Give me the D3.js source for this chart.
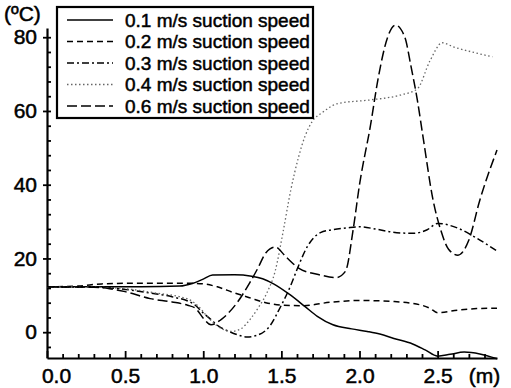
<!DOCTYPE html>
<html>
<head>
<meta charset="utf-8">
<script src="https://cdn.jsdelivr.net/npm/d3@7"></script>
<style>
    body { margin: 0; background: #fff; }
    svg text { font-family: "Liberation Sans", Arial, sans-serif; fill: #000; stroke: #000; stroke-width: 0.5px; }
</style>
</head>
<body>
<div id="chart"></div>
<script>
//Datos: [posición (m), temperatura (ºC)]
const seriesNames = ['0.1 m/s suction speed', '0.2 m/s suction speed', '0.3 m/s suction speed', '0.4 m/s suction speed', '0.6 m/s suction speed'];

const speed01 = [[0,12.3],[0.3,12.3],[0.6,12.3],[0.85,12.5],[0.93,13.2],[1.0,14.4],[1.06,15.5],[1.2,15.6],[1.31,15.2],[1.38,14.5],[1.45,13.1],[1.55,10.3],[1.65,7.0],[1.73,4.3],[1.83,2.0],[1.95,0.9],[2.05,0.2],[2.13,-0.5],[2.22,-1.7],[2.34,-3.2],[2.42,-4.8],[2.5,-6.5],[2.58,-6.0],[2.67,-5.4],[2.77,-5.9],[2.88,-7.2]];

const speed02 = [[0,12.3],[0.2,12.5],[0.35,13.1],[0.6,13.3],[0.9,13.3],[1.0,13.1],[1.09,12.3],[1.19,10.8],[1.3,9.3],[1.4,8.0],[1.51,7.3],[1.64,7.2],[1.81,8.1],[2.0,8.6],[2.22,8.3],[2.39,7.4],[2.45,6.5],[2.5,5.3],[2.63,6.0],[2.75,6.4],[2.88,6.5]];

const speed03 = [[0,12.3],[0.3,12.2],[0.5,11.6],[0.66,10.6],[0.8,9.6],[0.94,7.6],[1.0,5.2],[1.05,3.4],[1.1,1.6],[1.16,0.3],[1.22,-0.7],[1.28,-1.3],[1.34,-0.9],[1.43,1.9],[1.49,6.5],[1.56,12.7],[1.6,17.0],[1.67,23.5],[1.75,27.0],[1.83,27.8],[1.92,28.3],[2.0,28.6],[2.1,28.0],[2.2,27.2],[2.34,26.8],[2.43,27.7],[2.5,29.5],[2.63,28.2],[2.75,25.5],[2.88,22.0]];

const speed04 = [[0,12.3],[0.3,12.2],[0.5,11.8],[0.7,10.6],[0.9,9.0],[0.97,7.0],[1.02,4.5],[1.07,2.4],[1.12,0.9],[1.18,0.2],[1.24,0.9],[1.3,3.5],[1.35,6.5],[1.41,10.9],[1.46,16.5],[1.51,27.0],[1.56,38.5],[1.61,47.5],[1.65,53.0],[1.70,57.3],[1.76,59.5],[1.86,62.0],[2.07,63.0],[2.26,64.3],[2.37,66.0],[2.45,73.5],[2.53,78.5],[2.6,77.4],[2.72,76.0],[2.85,74.7]];

const speed06 = [[0,12.3],[0.3,12.2],[0.4,11.8],[0.5,11.0],[0.66,9.1],[0.8,8.2],[0.9,7.3],[0.95,6.5],[1.0,3.8],[1.05,2.0],[1.11,3.3],[1.22,8.2],[1.3,13.6],[1.35,17.4],[1.4,21.5],[1.46,23.1],[1.53,20.4],[1.61,17.4],[1.75,15.5],[1.85,14.8],[1.91,16.5],[1.96,28.0],[2.0,40.0],[2.07,56.0],[2.12,69.0],[2.18,80.0],[2.23,83.3],[2.29,80.0],[2.33,72.0],[2.37,63.0],[2.41,52.0],[2.47,36.0],[2.52,27.7],[2.57,22.5],[2.63,20.9],[2.70,25.0],[2.77,35.8],[2.88,49.4]];

//Ticks
const xMajorTicks = [0, 0.5, 1.0, 1.5, 2.0, 2.5];
const yMajorTicks = [0, 20, 40, 60, 80];

//Estilos de línea
const dashes = [null, '6,4', '7,3,2,3', '1.5,2.5', '10,4'];
const strokes = ['#000', '#000', '#000', '#666', '#000'];

let allSeries = [speed01, speed02, speed03, speed04, speed06];

let margin = {top: 28, right: 14, bottom: 30, left: 47},
    width = 511 - margin.left - margin.right,
    height = 388 - margin.top - margin.bottom;

let svg = d3.select('#chart')
    .append('svg')
        .attr('width', width + margin.left + margin.right)
        .attr('height', height + margin.top + margin.bottom);

let chart = svg.append('g')
    .attr('transform', 'translate(' + margin.left + ',' + margin.top + ')');

let x = d3.scaleLinear()
    .domain([0, 2.88])
    .range([0, width]);

let y = d3.scaleLinear()
    .domain([-7, 82.5])
    .range([height, 0]);

//Ejes menores
let xMinor = d3.range(1, 29).map(d => d / 10).filter(d => Math.round(d * 10) % 5 != 0);
let yMinor = d3.range(-4, 84, 4).filter(d => d % 20 != 0);

chart.append('g')
    .attr('transform', 'translate(0,' + height + ')')
    .call(d3.axisBottom(x).tickValues(xMinor).tickSize(-4).tickFormat(''))
    .call(g => g.select('.domain').remove());

chart.append('g')
    .call(d3.axisLeft(y).tickValues(yMinor).tickSize(-4).tickFormat(''))
    .call(g => g.select('.domain').remove());

//Ejes mayores
let xAxis = chart.append('g')
    .attr('transform', 'translate(0,' + height + ')')
    .call(d3.axisBottom(x).tickValues(xMajorTicks).tickSize(-7).tickSizeOuter(0).tickPadding(10).tickFormat(d3.format('.1f')));

xAxis.selectAll('text')
    .style('font-size', '21px')
    .attr('dx', d => d == 0 ? 9 : 0);

let yAxis = chart.append('g')
    .call(d3.axisLeft(y).tickValues(yMajorTicks).tickSize(4).tickSizeOuter(0).tickPadding(6));

yAxis.selectAll('text').style('font-size', '21px');

chart.append('g')
    .call(d3.axisLeft(y).tickValues(yMajorTicks).tickSize(-4).tickFormat(''))
    .call(g => g.select('.domain').remove());

chart.selectAll('.domain, .tick line')
    .attr('stroke', '#000')
    .attr('stroke-width', 1.8);

chart.selectAll('.domain').attr('stroke-width', 2.2);

//Unidades
chart.append('text')
    .attr('x', x(2.8))
    .attr('y', height + 25)
    .attr('text-anchor', 'middle')
    .style('font-size', '21px')
    .text('(m)');

svg.append('text')
    .attr('x', 4)
    .attr('y', 21)
    .style('font-size', '21px')
    .text('(ºC)');

//Líneas
let line = d3.line()
    .x(d => x(d[0]))
    .y(d => y(d[1]))
    .curve(d3.curveMonotoneX);

chart.selectAll('.serie')
    .data(allSeries)
    .enter()
    .append('path')
        .attr('class', 'serie')
        .attr('fill', 'none')
        .attr('stroke', (d, i) => strokes[i])
        .attr('stroke-width', (d, i) => i == 3 ? 1.3 : 1.5)
        .attr('stroke-dasharray', (d, i) => dashes[i])
        .attr('d', line);

//Leyenda
let legend = svg.append('g');

legend.append('rect')
    .attr('x', 57)
    .attr('y', 7)
    .attr('width', 256)
    .attr('height', 111)
    .attr('fill', '#fff')
    .attr('stroke', '#000')
    .attr('stroke-width', 2.2);

let items = legend.selectAll('.item')
    .data(seriesNames)
    .enter()
    .append('g')
        .attr('class', 'item')
        .attr('transform', (d, i) => 'translate(0,' + (20 + i * 21.5) + ')');

items.append('line')
    .attr('x1', 67)
    .attr('x2', 113)
    .attr('stroke', (d, i) => strokes[i])
    .attr('stroke-width', (d, i) => i == 3 ? 1.3 : 1.5)
    .attr('stroke-dasharray', (d, i) => dashes[i]);

items.append('text')
    .attr('x', 125)
    .attr('dy', '0.35em')
    .style('font-size', '19px')
    .text(d => d);
</script>
</body>
</html>
